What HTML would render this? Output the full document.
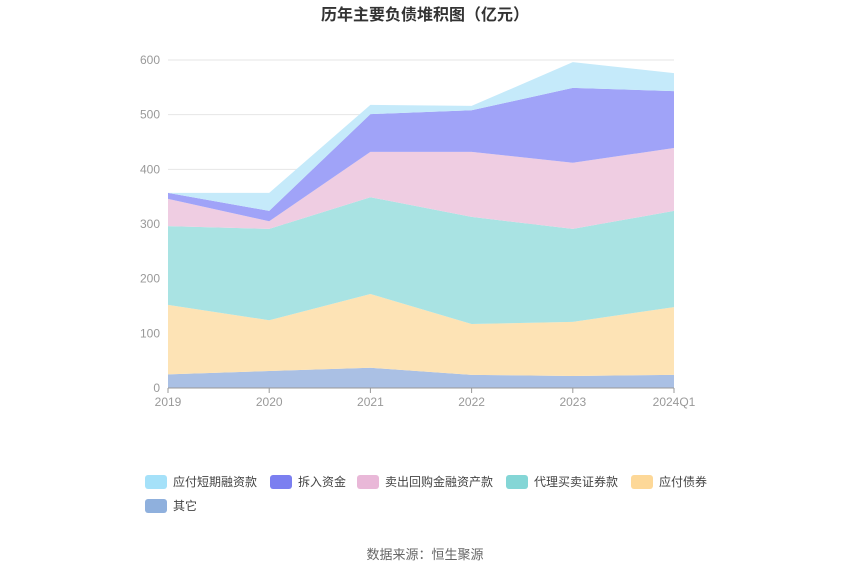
<!DOCTYPE html>
<html><head><meta charset="utf-8"><style>
body{margin:0;background:#fff;font-family:"Liberation Sans","Noto Sans CJK SC",sans-serif}
svg text{font-family:"Liberation Sans","Noto Sans CJK SC",sans-serif}
</style></head><body>
<svg id="c" width="850" height="575" xmlns="http://www.w3.org/2000/svg">
<text x="425" y="20" text-anchor="middle" font-size="16" font-weight="bold" fill="#333">历年主要负债堆积图（亿元）</text>
<g id="grid"></g><g id="areas"></g><g id="axes"></g><g id="legend"></g>
<text x="425" y="559" text-anchor="middle" font-size="13" fill="#666">数据来源：恒生聚源</text>
</svg>
<script>
const categories=["2019","2020","2021","2022","2023","2024Q1"];
const yTicks=[0,100,200,300,400,500,600];
const seriesNames=["其它","应付债券","代理买卖证券款","卖出回购金融资产款","拆入资金","应付短期融资款"];
const other=[25,31,37,24,22,24];
const bonds=[127,93,135,93,99,124];
const brokerage=[144,167,177,196,170,176];
const repo=[50,14,83,119,121,115];
const borrowed=[11,19,69,76,137,104];
const shortTerm=[0,33,17,8,47,33];
const series=[other,bonds,brokerage,repo,borrowed,shortTerm];
const fills=["#aac0e4","#fde3b5","#a9e3e3","#efcde2","#a0a3f8","#c5eafa"];
const swatch=["#8fb0dd","#fdd898","#84d6d6","#e9b8d8","#7b7ff0","#a5e1f9"];
const NS="http://www.w3.org/2000/svg";
const x0=168,x1=674,yb=388,yt=60;
const xs=i=>x0+(x1-x0)*i/(categories.length-1);
const ys=v=>yb-(yb-yt)*v/600;
function mk(tag,attrs,parent){const e=document.createElementNS(NS,tag);for(const k in attrs)e.setAttribute(k,attrs[k]);parent.appendChild(e);return e;}
const grid=document.getElementById('grid'),areas=document.getElementById('areas'),axes=document.getElementById('axes'),legend=document.getElementById('legend');
yTicks.forEach(t=>{
 if(t>0){const l=mk('line',{x1:x0,x2:x1,y1:ys(t),y2:ys(t),stroke:'#e6e6e6'},grid);
 
 }
 const tx=mk('text',{x:160,y:ys(t)+4,'text-anchor':'end','font-size':12,fill:'#999'},axes);tx.textContent=t;
 
 
});
let base=categories.map(()=>0);
series.forEach((s,si)=>{
 const top=base.map((b,i)=>b+s[i]);
 let d='M'+top.map((v,i)=>xs(i)+','+ys(v)).join('L');
 for(let i=categories.length-1;i>=0;i--)d+='L'+xs(i)+','+ys(base[i]);
 d+='Z';
 const p=mk('path',{d:d,fill:fills[si]},areas);
 
 
 base=top;
});
const ax=mk('line',{x1:x0,x2:x1,y1:yb,y2:yb,stroke:'#999'},axes);


categories.forEach((c,i)=>{
 const tk=mk('line',{x1:xs(i),x2:xs(i),y1:yb,y2:yb+5,stroke:'#999'},axes);
 
 
 const t=mk('text',{x:xs(i),y:406,'text-anchor':'middle','font-size':12,fill:'#999'},axes);t.textContent=c;
 
 
});
const legOrder=[5,4,3,2,1,0];
const legPos=[[145,482],[270,482],[357,482],[506,482],[631,482],[145,506]];
legOrder.forEach((si,k)=>{
 const g=mk('g',{},legend);
 
 
 const [lx,ly]=legPos[k];
 mk('rect',{x:lx,y:ly-7,width:22,height:14,rx:3,fill:swatch[si]},g);
 const t=mk('text',{x:lx+28,y:ly+4,'font-size':12,fill:'#444'},g);t.textContent=seriesNames[si];
});
</script>
</body></html>
